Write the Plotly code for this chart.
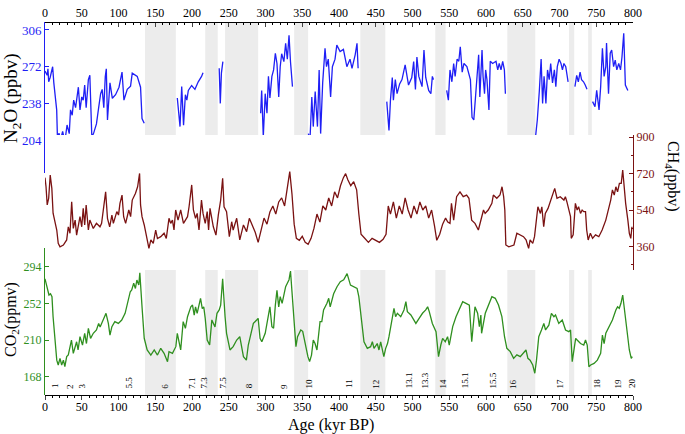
import plotly.graph_objects as go

# ---------------- data ----------------
n2o_age = [0, 3, 4, 5, 7, 10.4, 12, 15.9, 17, 19, 21, 24, 27, 30, 33, 34.7, 37, 39, 41.6, 43, 45.4, 47.6, 50, 52, 54, 56, 59, 61, 63.7, 66, 68, 70, 73, 75.7, 77.8, 80, 82, 83.4, 85, 88.4, 91.6, 96, 100.7, 103, 104.8, 107.4, 111.9, 116.4, 118.7, 125.5, 130, 132, 135,
           None,
           180, 183.7, 186, 188.5, 191, 193, 195, 199.5, 204, 208.5, 213, 215,
           None,
           237, 238.5, 240, 242,
           None,
           293.4, 294.8, 297, 299.6, 302, 304, 306, 308.7, 311, 313.4, 315.6, 318, 320, 322, 325, 327.4, 329.7, 332, 334, 336.7,
           None,
           358.3, 360.5, 363, 365, 367.6, 370.7, 373, 375, 377.8, 381, 383, 385.4, 388.6, 391, 394.6, 397, 401.5, 406, 410.7, 415, 417.7, 422, 424.5, 426,
           None,
           465, 468, 470, 472.5, 474, 476.6, 479, 482.5, 485.7, 490, 494.6, 499, 501.6, 504, 506, 508.6, 513, 515.6, 518, 520, 522, 525, 527, 528.6,
           None,
           546.5, 548.8, 551, 553.6, 556, 558, 560.7, 563, 565, 567.6, 570, 574, 578.8, 581, 583.4, 585.6, 588, 590, 591.6, 594.6, 596, 598, 599.5, 601.3, 604, 605.8, 609, 613.6, 616, 618, 620.4, 622.7, 625, 626.4,
           None,
           666.7, 669.8, 672.6, 675, 677, 679, 681.5, 683.7, 686, 688, 690.5, 693, 695, 697, 699.5, 702, 704, 706, 708.5, 711.7,
           None,
           721, 723.4, 725.6, 728, 730, 732.7, 735, 737.4,
           None,
           745, 748.3, 750.6, 753.8, 756, 758.4, 760.7, 763, 764, 766.7, 769, 771, 773.6, 775.8, 778, 780.6, 783, 785, 787.4, 789.6, 793]
n2o_val = [268, 264, 270, 258, 262, 272, 257, 232, 204, 210.5, 204, 212, 202.6, 218, 210, 232, 227, 241, 234, 241, 253, 232, 244, 241, 255, 234, 260, 264, 207, 210, 216, 219, 234, 247, 251, 234, 262.8, 270, 222.6, 257, 242.7, 246, 253, 260, 267, 241, 251, 254, 266, 263, 253, 224, 219.5,
           None,
           243, 216.5, 253.5, 217.8, 246, 241, 250, 254.6, 251, 258, 263, 266.4,
           None,
           270.5, 238, 266, 276.7,
           None,
           228.8, 250, 207, 247, 229, 263, 243, 263, 269, 284.4, 275, 244, 272, 284, 276.7, 293.6, 279, 301, 276.6, 253.5,
           None,
           210, 204, 244, 216.5, 249, 216.5, 269, 210, 257, 289, 272, 279, 244, 272, 279, 292, 286, 288, 272, 279, 270.5, 283, 293.6, 270.5,
           None,
           239.6, 213, 241, 262, 241, 260, 247, 256, 260, 273.6, 255, 262, 276.7, 251, 281, 263, 253.5, 287.5, 262, 255, 250, 247, 263, 260,
           None,
           250, 241, 269, 258, 275, 263, 279, 277, 290.5, 267, 275, 272, 260, 225, 222.6, 241, 269, 283, 244, 287.5, 263, 247, 269, 260, 232, 277, 275, 277, 269, 275, 269, 277, 269, 247,
           None,
           202.6, 222.6, 250, 279, 238, 263, 238, 269, 260, 275, 257, 269, 253.5, 272, 279, 275, 269, 275, 272, 258,
           None,
           253.5, 264, 258, 267, 260, 258, 255, 251,
           None,
           239.6, 235, 250, 232, 253.5, 289, 263, 272, 294, 247, 284.5, 287.5, 272, 278, 269, 275, 269, 281, 303, 255, 250]

ch4_age = [0, 1.4, 3, 5, 7.1, 9.3, 11, 16, 18, 20.4, 25, 29.5, 31.7, 34, 36.3, 38.5, 41, 43, 47.6, 50, 52, 54, 56, 59, 61, 65.7, 70, 74.8, 77, 79.4, 82.5, 85, 88, 91, 93, 97.7, 100, 102, 104.8, 107, 109.7, 114, 116.5, 118.7, 123, 126, 128.7, 130, 132, 135, 137.8, 141.4, 144, 147.3, 150.6, 153, 157.5, 162, 165, 168.7, 171, 173.4, 175.5, 177.8, 181, 184.6, 188.4, 193.9, 196, 199.6, 201.9, 204.8, 207, 209.5, 212.9, 215, 218, 220.7, 222.6, 224.5, 229, 232.6, 235.8, 239, 241.7, 243.6, 247, 250.8, 254, 256, 260.8, 265, 270, 274.3, 278,
           282, 286, 290, 294, 298, 302, 306, 310, 314, 318, 322, 326, 330, 333, 336, 339, 342, 346, 350, 354, 358, 362, 366, 370, 374, 378, 382, 386, 390, 394, 398, 402, 406, 409, 412, 416, 420, 424, 427, 430, 435, 440, 445, 450, 455, 460, 464, 467, 470, 474, 478, 482, 486, 490, 494, 498, 502, 506, 510, 514, 518, 522, 526, 530, 533, 537, 541, 545, 548,
           551, 553, 556, 560, 564.6, 569, 573.6, 576.8, 580.5, 585, 589.6, 592, 596.6, 598.8, 603, 608, 610, 614.7, 619, 621.8, 624, 625.6, 627, 631, 638, 642, 646.6, 651, 654.5, 658, 660, 663.6, 666, 668, 670.6, 674, 676, 678.5, 680.7, 684.4, 687.5, 690.6, 693.5, 696.6, 701, 706, 708, 710, 712.6, 715, 716, 718.6, 721.6, 724, 726, 728.6, 730.8, 733, 735.4, 737, 739, 742, 745, 749, 753.5, 758, 763, 766.5, 769.7, 772, 774.5, 776.7, 779, 781.5, 784, 786, 788, 790, 793, 795, 797, 798.6]
ch4_val = [700, 655, 565, 598, 713, 647, 524, 441, 375, 358, 367, 392, 457, 425, 581, 449, 490, 416, 507, 457, 548, 466, 565, 441, 490, 449, 474, 457, 474, 556, 630, 499, 457, 515, 474, 532, 515, 573, 614, 507, 474, 540, 507, 589, 622, 655, 721, 565, 507, 466, 408, 350, 392, 375, 441, 399, 408, 425, 399, 499, 474, 490, 441, 540, 490, 540, 474, 507, 556, 664, 540, 499, 523, 441, 589, 523, 474, 532, 441, 548, 457, 416, 515, 589, 697, 556, 532, 408, 482, 441, 499, 392, 466, 433, 499,
           460, 430, 380, 440, 500, 470, 530, 560, 520, 580, 600, 560, 650, 730, 620, 470, 400, 390, 410, 380, 370, 400, 450, 520, 480, 560, 540, 600, 560, 630, 600, 660, 700, 720, 690, 660, 680, 640, 520, 420, 400, 380, 400, 390, 380, 395, 420, 560, 520, 580, 500, 560, 520, 600, 540, 500, 560, 520, 580, 540, 560, 500, 540, 460, 390, 420, 470, 500, 480,
           474, 573, 490, 606, 630, 606, 614, 598, 490, 474, 441, 474, 540, 523, 540, 573, 614, 598, 614, 655, 606, 540, 367, 358, 367, 425, 417, 408, 392, 350, 392, 375, 408, 474, 556, 523, 556, 457, 523, 548, 581, 606, 647, 598, 606, 589, 606, 581, 540, 507, 400, 417, 573, 540, 556, 523, 540, 532, 532, 441, 392, 425, 400, 417, 408, 441, 490, 540, 589, 639, 614, 655, 630, 672, 672, 738, 639, 573, 490, 425, 400, 457]

co2_age = [0, 3, 5.4, 7.5, 9.5, 11, 16, 18, 20.4, 22.7, 25, 27, 29.5, 31.7, 36, 38.5, 43, 45, 47.6, 51, 54, 56.4, 59, 62, 65.7, 70, 73, 75, 79.4, 83, 86.2, 88.4, 91, 95, 99.8, 104.4, 109, 113.4, 116, 118, 120.7, 123, 125, 127.6, 129, 132, 135, 139, 144, 148.6, 153, 157.5, 162, 166.7, 168.7, 173.4, 178, 180, 184.6, 188, 191, 193.9, 198.4, 200.7, 203, 204.8, 207, 211.6, 214, 216, 218, 220.7, 224, 227, 231.3, 234, 237, 239, 241.7, 245, 247, 251.7, 256, 260.8, 265, 270, 274, 276.6,
           279, 283.5, 288, 290, 292.6, 295, 299.6, 304, 306, 308.7, 311, 313.4, 315.6, 318, 320, 322.6, 325, 327.4, 329.7, 332, 334, 336.7, 339, 341.4, 343.6, 348, 350.6, 353, 355, 357.7, 360, 362.6, 365, 367.4, 370, 372, 374.2, 376.6, 379, 383.6, 386, 388, 392.7, 397.3, 401.8, 406.4, 411, 415.6, 420, 424.6, 427, 429.5, 431.7, 434, 438.5, 443, 445.4, 447.6, 452, 454.4, 456.7, 459, 461, 463.5, 466, 468, 470.3, 472.5, 474.8, 477, 479.4, 484, 488.4, 491, 493, 497.8, 502.4, 504.6, 509, 513.6, 518, 520.6, 522.8, 527, 532, 534, 535.4, 538.5, 541, 544.6, 547.7, 550, 552.6, 554.7, 559.2, 563.7, 568.3, 572.8, 577.3, 580.6,
           585, 588.6, 591, 593, 594, 599, 603.4, 608, 612.6, 617, 621.6, 625.2, 628.4, 633, 637.6, 642, 646.6, 651, 654.4, 657, 660, 663.6, 666.4, 668.7, 671.8, 675.5, 678.7, 681, 685.5, 689, 692.4, 694.6, 699, 703.7, 708.2, 712.7, 715, 717.3, 719.6, 722, 724, 728.6, 733, 735.4, 737.7, 740, 742.4, 747, 751.5, 756, 758.4, 760.7, 763, 767.5, 772, 776.7, 779, 781.3, 783.6, 786, 788.3, 790.6, 793, 795, 797.6, 799]
co2_val = [280, 271, 261.5, 263, 259.6, 236.7, 187, 181.4, 189, 181.4, 187, 179.5, 191, 193, 210, 194.8, 208, 198.6, 213.8, 204.3, 217.7, 206, 223.4, 211.9, 217.7, 221.5, 229, 225, 234.8, 240.6, 229, 215.7, 225.3, 231, 229, 232.9, 240.6, 255.8, 265.3, 267.2, 275, 269, 278.7, 273, 287, 248, 212, 198.6, 192.8, 198.6, 192.8, 200.5, 194.8, 185.2, 196.7, 194.8, 202.4, 217.7, 198.6, 231, 223.4, 236.7, 248, 250, 238.6, 248, 240.6, 257.7, 246, 248, 234.8, 210, 204.3, 233, 225, 240.6, 244.4, 250, 280, 236.7, 217.7, 198.6, 202.4, 210, 213.8, 191, 187, 204.3,
           213.8, 229, 232.9, 234.8, 212, 208, 217.7, 240.6, 248, 225.3, 223.4, 250, 267, 248, 259.6, 252, 261, 271, 275, 279, 289, 255.8, 236.7, 202.4, 213.8, 221.5, 220, 210, 202.4, 191, 185.3, 192.8, 210, 206, 198.6, 215.7, 231, 231, 244.4, 252, 257.7, 248, 263, 271, 276.8, 279, 286, 272.9, 271, 269, 259.6, 240.6, 221.5, 208, 200.5, 202.4, 208, 200.5, 206, 198.6, 208, 198.6, 191, 200.5, 206, 213.8, 225.3, 232.9, 246.3, 236.7, 240.6, 236.7, 244.4, 253.9, 242.5, 238.6, 231, 229, 234.8, 240.6, 244.4, 248, 242.5, 229, 219.6, 202.4, 191, 204.3, 211.9, 208, 213.8, 204.3, 217.7, 225.3, 236.7, 244.4, 253.9, 252, 250, 208,
           248, 240.6, 225.3, 238.6, 217.7, 240.6, 250, 259.6, 257.7, 250, 236.7, 213.8, 200.5, 196.7, 189, 193, 191, 194.8, 198.6, 189, 187, 181.4, 172, 187, 213.8, 221.5, 229, 221.5, 227, 240.6, 236.7, 238.6, 229, 232.9, 221.5, 219.6, 221.5, 185.3, 198.6, 211.9, 210, 206, 204.3, 210, 204.3, 179.5, 181.4, 183.3, 187, 194.8, 215.7, 206, 217.7, 225.3, 232.9, 244.4, 248, 246.3, 252, 261.5, 244.4, 225.3, 213.8, 198.6, 189, 191]

bands = [(136, 178), (218, 235), (245, 290), (339, 358), (429, 463),
         (531, 545), (629, 667), (713, 720), (739, 744)]

mis_labels = ["1", "2", "3", "5.5", "6", "7.1", "7.3", "7.5", "8", "9", "10", "11", "12",
              "13.1", "13.3", "14", "15.1", "15.5", "16", "17", "18", "19", "20"]
mis_age = [13.6, 34, 51, 113, 163, 199.5, 215, 242, 278, 325, 359, 413.6, 450,
           495, 517, 541.5, 571, 609.5, 636, 700.7, 750.5, 779.6, 798]

x_ticks = [0, 50, 100, 150, 200, 250, 300, 350, 400, 450, 500, 550, 600, 650, 700, 750, 800]
n2o_ticks = [204, 238, 272, 306]
ch4_ticks = [360, 540, 720, 900]
co2_ticks = [168, 210, 252, 294]

# ---------------- styling ----------------
BLUE = "#1f1ff5"
RED = "#7a1212"
GREEN = "#2f8f1f"
FONT = "Liberation Serif"

fig = go.Figure()
fig.add_trace(go.Scatter(x=n2o_age, y=n2o_val, mode="lines", line=dict(color=BLUE, width=1.3),
                         xaxis="x", yaxis="y", connectgaps=False, hoverinfo="skip", showlegend=False))
fig.add_trace(go.Scatter(x=ch4_age, y=ch4_val, mode="lines", line=dict(color=RED, width=1.3),
                         xaxis="x", yaxis="y2", hoverinfo="skip", showlegend=False))
fig.add_trace(go.Scatter(x=co2_age, y=co2_val, mode="lines", line=dict(color=GREEN, width=1.3),
                         xaxis="x", yaxis="y3", hoverinfo="skip", showlegend=False))
# invisible trace to activate the top axis
fig.add_trace(go.Scatter(x=[0, 800], y=[250, 250], mode="lines", line=dict(width=0),
                         xaxis="x2", yaxis="y", hoverinfo="skip", showlegend=False, opacity=0))

shapes = [dict(type="rect", xref="x", yref="paper", x0=a, x1=b, y0=0, y1=1,
               fillcolor="#ececec", line=dict(width=0), layer="below") for a, b in bands]

annotations = [dict(x=a, y=0.012, xref="x", yref="paper", text=t, showarrow=False,
                    textangle=-90, xanchor="center", yanchor="bottom",
                    font=dict(family=FONT, size=9, color="black"))
               for t, a in zip(mis_labels, mis_age)]

W, H = 685, 434
L, R, T, B = 45, 52, 22, 39
ph = H - T - B

def py(p):
    return (H - B - p) / ph

def px(p):
    return (p - L) / (W - L - R)

annotations += [
    dict(x=px(12), y=py(98), xref="paper", yref="paper", text="N<sub>2</sub>O (ppbv)",
         xanchor="center", yanchor="middle",
         showarrow=False, textangle=-90, font=dict(family=FONT, size=19, color="black")),
    dict(x=px(673), y=py(176), xref="paper", yref="paper", text="CH<sub>4</sub>(ppbv)",
         xanchor="center", yanchor="middle",
         showarrow=False, textangle=90, font=dict(family=FONT, size=16, color="black")),
    dict(x=px(11), y=py(320), xref="paper", yref="paper", text="CO<sub>2</sub>(ppmv)",
         xanchor="center", yanchor="middle",
         showarrow=False, textangle=-90, font=dict(family=FONT, size=16, color="black")),
    dict(x=px(331), y=py(425), xref="paper", yref="paper", text="Age (kyr BP)",
         xanchor="center", yanchor="middle",
         showarrow=False, font=dict(family=FONT, size=16, color="black")),
]

fig.update_layout(
    width=W, height=H,
    margin=dict(l=L, r=R, t=T, b=B, pad=0, autoexpand=False),
    paper_bgcolor="white", plot_bgcolor="white",
    font=dict(family=FONT, size=12, color="black"),
    shapes=shapes, annotations=annotations,
    xaxis=dict(range=[0, 800], tickvals=x_ticks, ticks="outside", ticklen=4, tickwidth=1,
               showline=True, linecolor="black", linewidth=1, showgrid=False, zeroline=False,
               anchor="free", position=0, mirror=False, automargin=False,
               ticklabelstandoff=-3,
               minor=dict(dtick=10, ticks="outside", ticklen=2, tickcolor="black"),
               tickfont=dict(family=FONT, size=12, color="black")),
    xaxis2=dict(range=[0, 800], overlaying="x", side="top", anchor="free", position=1,
                tickvals=x_ticks, ticks="inside", ticklen=4, tickwidth=1, automargin=False,
                showline=True, linecolor="black", linewidth=1, showgrid=False, zeroline=False,
                minor=dict(dtick=10, ticks="inside", ticklen=2, tickcolor="black"),
                tickfont=dict(family=FONT, size=12, color="black")),
    yaxis=dict(domain=[py(173), 1], range=[173.5, 313.4], tickvals=n2o_ticks,
               ticks="inside", ticklen=4, tickcolor=BLUE, showline=True, linecolor=BLUE,
               linewidth=1, showgrid=False, zeroline=False, anchor="x", automargin=False,
               tickfont=dict(family=FONT, size=13, color=BLUE)),
    yaxis2=dict(domain=[py(270), py(135)], range=[243.3, 910.9], tickvals=ch4_ticks,
                side="right", anchor="x", ticks="inside", ticklen=4, tickcolor=RED,
                showline=True, linecolor=RED, linewidth=1, showgrid=False, zeroline=False,
                automargin=False,
                minor=dict(dtick=90, ticks="inside", ticklen=2, tickcolor=RED),
                tickfont=dict(family=FONT, size=12, color=RED)),
    yaxis3=dict(domain=[0, py(248)], range=[147.1, 315.3], tickvals=co2_ticks,
                anchor="x", ticks="inside", ticklen=4, tickcolor=GREEN, showline=True,
                linecolor=GREEN, linewidth=1, showgrid=False, zeroline=False, automargin=False,
                tickfont=dict(family=FONT, size=12, color=GREEN)),
)

fig.write_html("out.html")
